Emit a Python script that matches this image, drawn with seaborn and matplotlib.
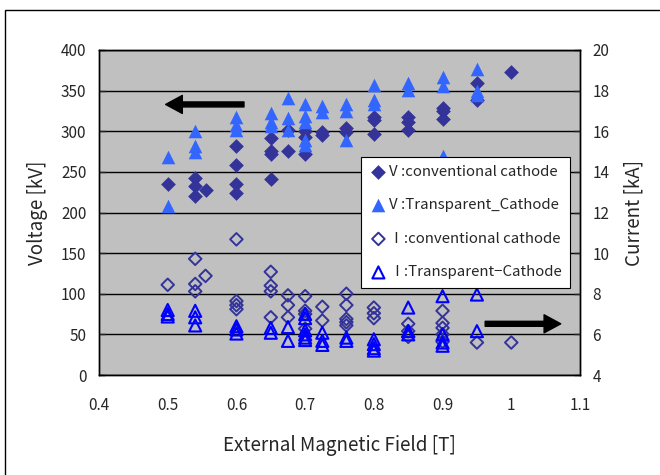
import matplotlib
matplotlib.use("Agg")
import matplotlib.pyplot as plt
import seaborn as sns
import pandas as pd
from matplotlib.patches import Rectangle
from matplotlib.ticker import FuncFormatter

sns.set_style("white")
plt.rcParams['font.family'] = ['Noto Sans CJK JP', 'DejaVu Sans']

# ---- data ----
B_vc = [0.5, 0.54, 0.54, 0.54, 0.555, 0.6, 0.6, 0.6, 0.6, 0.65, 0.65, 0.65, 0.65,
        0.675, 0.675, 0.7, 0.7, 0.7, 0.725, 0.725, 0.76, 0.76, 0.8, 0.8, 0.8,
        0.85, 0.85, 0.85, 0.9, 0.9, 0.9, 0.95, 0.95, 1.0]
V_vc = [235, 243, 233, 220, 228, 282, 258, 235, 224, 292, 276, 272, 241,
        301, 276, 300, 293, 272, 299, 296, 304, 299, 317, 314, 297,
        318, 311, 301, 329, 325, 315, 360, 339, 373]

B_vt = [0.5, 0.5, 0.54, 0.54, 0.54, 0.6, 0.6, 0.6, 0.65, 0.65, 0.65,
        0.675, 0.675, 0.675, 0.7, 0.7, 0.7, 0.7, 0.7, 0.725, 0.725,
        0.76, 0.76, 0.76, 0.8, 0.8, 0.8, 0.85, 0.85, 0.9, 0.9, 0.9, 0.95, 0.95, 0.95]
V_vt = [268, 208, 300, 282, 274, 318, 308, 301, 323, 311, 306,
        341, 316, 302, 334, 319, 312, 289, 283, 331, 324,
        334, 325, 289, 357, 339, 333, 360, 351, 367, 356, 270, 377, 350, 345]

B_ic = [0.5, 0.54, 0.54, 0.54, 0.555, 0.6, 0.6, 0.6, 0.6, 0.65, 0.65, 0.65, 0.65,
        0.675, 0.675, 0.675, 0.7, 0.7, 0.7, 0.7, 0.725, 0.725,
        0.76, 0.76, 0.76, 0.76, 0.76, 0.8, 0.8, 0.8, 0.85, 0.85, 0.85,
        0.9, 0.9, 0.9, 0.9, 0.9, 0.95, 1.0]
I_ic = [8.44, 9.72, 8.48, 8.12, 8.88, 10.68, 7.64, 7.44, 7.24, 9.08, 8.40, 8.12, 6.84,
        7.92, 7.44, 6.84, 7.88, 7.16, 7.00, 6.28, 7.36, 6.68,
        8.00, 7.44, 6.76, 6.60, 6.44, 7.32, 7.04, 6.80, 6.52, 6.16, 5.88,
        7.16, 6.56, 6.32, 6.00, 5.64, 5.60, 5.60]

B_it = [0.5, 0.5, 0.5, 0.54, 0.54, 0.54, 0.6, 0.6, 0.6, 0.65, 0.65, 0.675, 0.675,
        0.7, 0.7, 0.7, 0.7, 0.7, 0.7, 0.725, 0.725, 0.725, 0.76, 0.76,
        0.8, 0.8, 0.8, 0.8, 0.85, 0.85, 0.85, 0.9, 0.9, 0.9, 0.9, 0.95, 0.95]
I_it = [7.20, 7.00, 6.88, 7.16, 6.84, 6.44, 6.40, 6.24, 6.04, 6.32, 6.08, 6.36, 5.68,
        7.00, 6.80, 6.20, 6.00, 5.84, 5.72, 6.08, 5.68, 5.48, 5.84, 5.68,
        5.76, 5.52, 5.32, 5.20, 7.32, 6.16, 6.00, 7.88, 6.00, 5.60, 5.44, 7.96, 6.16]

labels = ["V :conventional cathode", "V :Transparent_Cathode",
          "\u2160:conventional cathode", "\u2160:Transparent\u2212Cathode"]
x_ticks = [0.4, 0.5, 0.6, 0.7, 0.8, 0.9, 1.0, 1.1]
v_ticks = [0, 50, 100, 150, 200, 250, 300, 350, 400]
i_ticks = [4, 6, 8, 10, 12, 14, 16, 18, 20]

c_dark = "#333399"
c_light = "#3366FF"
c_blue = "#0000FF"

fig = plt.figure(figsize=(6.6, 4.75), dpi=100)
ax = fig.add_axes([99 / 660, 1 - 375 / 475, 481 / 660, 325 / 475])
ax.set_facecolor("#C0C0C0")
ax2 = ax.twinx()

sns.scatterplot(x=B_vc, y=V_vc, ax=ax, marker="D", s=7.5 ** 2, color=c_dark,
                edgecolor=c_dark, linewidth=0, label=labels[0], zorder=3)
sns.scatterplot(x=B_vt, y=V_vt, ax=ax, marker="^", s=9.8 ** 2, color=c_light,
                edgecolor=c_light, linewidth=0, label=labels[1], zorder=3)
sns.scatterplot(x=B_ic, y=I_ic, ax=ax2, marker="D", s=6.4 ** 2, facecolor="none",
                edgecolor=c_dark, linewidth=1.4, label=labels[2], zorder=3)
sns.scatterplot(x=B_it, y=I_it, ax=ax2, marker="^", s=8.7 ** 2, facecolor="none",
                edgecolor=c_blue, linewidth=1.5, label=labels[3], zorder=3)

ax.set_xlim(0.4, 1.1)
ax.set_ylim(0, 400)
ax2.set_ylim(4, 20)
ax.set_xticks(x_ticks)
ax.set_yticks(v_ticks)
ax2.set_yticks(i_ticks)
ax.xaxis.set_major_formatter(FuncFormatter(lambda v, p: "%g" % round(v, 2)))

ax.yaxis.grid(True, color="black", linewidth=1.0)
ax.set_axisbelow(True)
for a in (ax, ax2):
    for s in a.spines.values():
        s.set_color("black")
        s.set_linewidth(1.0)

ax.tick_params(axis="x", direction="in", length=6, width=1, pad=16, labelsize=11)
ax.tick_params(axis="y", direction="in", length=4, width=1, pad=9, labelsize=11)
ax2.tick_params(axis="y", direction="in", length=4, width=1, pad=9, labelsize=11)

ax.set_xlabel("External Magnetic Field [T]", fontsize=13.5, labelpad=15)
ax.set_ylabel("Voltage [kV]", fontsize=13.5, labelpad=9)
ax2.set_ylabel("Current [kA]", fontsize=13.5, labelpad=10)

# arrows
ax.annotate("", xy=(0.497, 333), xytext=(0.611, 333),
            arrowprops=dict(facecolor="black", edgecolor="black", width=3.6,
                            headwidth=13, headlength=12, shrink=0), zorder=4)
ax.annotate("", xy=(1.072, 63), xytext=(0.962, 63),
            arrowprops=dict(facecolor="black", edgecolor="black", width=3.6,
                            headwidth=13, headlength=12, shrink=0), zorder=4)

# legend
ax.get_legend().remove()
h1, l1 = ax.get_legend_handles_labels()
h2, l2 = ax2.get_legend_handles_labels()
leg = ax2.legend(h1 + h2, l1 + l2, loc="upper right", bbox_to_anchor=(0.979, 0.672),
                 frameon=True, fancybox=False, shadow=False, fontsize=10.8,
                 labelspacing=1.3, handletextpad=0.1, handlelength=1.2,
                 borderpad=0.55, borderaxespad=0)
leg.get_frame().set_edgecolor("black")
leg.get_frame().set_linewidth(0.8)
leg.get_frame().set_facecolor("white")
leg.get_frame().set_alpha(1)

# figure border
fig.add_artist(Rectangle((5 / 660, -0.1), 1.2, 1 - 10 / 475 + 0.1,
                         transform=fig.transFigure, fill=False,
                         edgecolor="black", linewidth=1.0))

fig.savefig("out.png", dpi=100)
